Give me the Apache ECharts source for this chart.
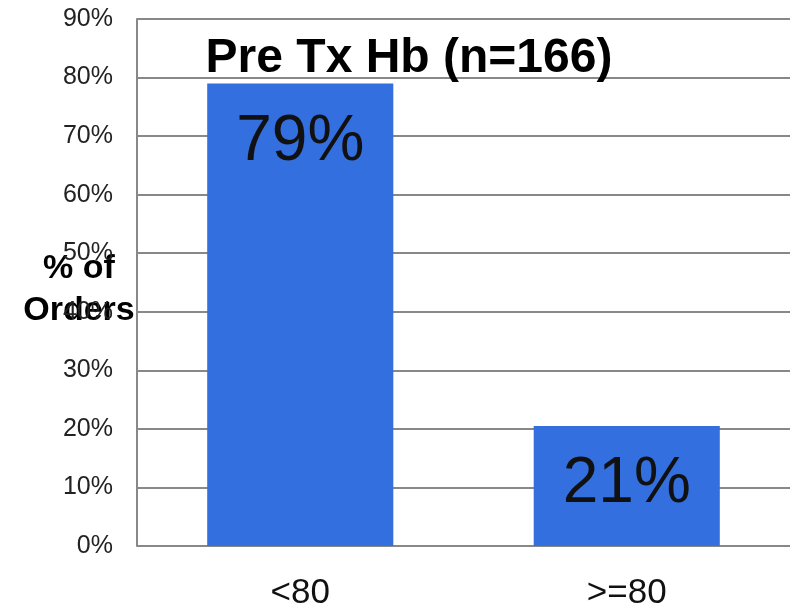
<!DOCTYPE html>
<html><head><meta charset="utf-8">
<script src="https://cdn.jsdelivr.net/npm/echarts@6/dist/echarts.min.js"></script>
<style>html,body{margin:0;padding:0;background:#fff}#c{width:794px;height:611px}</style>
</head><body><div id="c"></div>
<script>
const categories = ['<80', '>=80'];
const values = [79, 20.5];
const valueLabels = ['79%', '21%'];
const yTicks = [0, 10, 20, 30, 40, 50, 60, 70, 80, 90];

const chart = echarts.init(document.getElementById('c'));
const font = '"Liberation Sans", Arial, sans-serif';
chart.setOption({
  animation: false,
  textStyle: { fontFamily: font },
  title: {
    text: 'Pre Tx Hb (n=166)', left: 404, top: 30, textAlign: 'center',
    textStyle: { fontFamily: font, fontSize: 48, fontWeight: 'bold', color: '#000' }
  },
  graphic: [{
    type: 'text', x: 79, y: 248,
    style: { text: '% of\nOrders', font: 'bold 34px ' + font, fill: '#000', textAlign: 'center', lineHeight: 42 }
  }],
  grid: { left: 137, right: 4, top: 19, bottom: 62 },
  xAxis: {
    type: 'category', data: categories,
    axisLine: { show: false }, axisTick: { show: false },
    axisLabel: { fontSize: 35, color: '#111', margin: 30, fontFamily: font }
  },
  yAxis: {
    type: 'value', min: 0, max: 90, interval: 10,
    axisLine: { show: true, lineStyle: { color: '#888', width: 2 } },
    axisTick: { show: false },
    splitLine: { lineStyle: { color: '#888', width: 2 } },
    axisLabel: { formatter: v => v + '%', fontSize: 25, color: '#222', margin: 24, fontFamily: font }
  },
  series: [{
    type: 'bar', barWidth: '57%',
    itemStyle: { color: '#336fdf' },
    label: {
      show: true, formatter: p => valueLabels[p.dataIndex],
      fontSize: 64, color: '#111', fontFamily: font
    },
    data: [
      { value: values[0], label: { position: 'insideTop', distance: 27 } },
      { value: values[1], label: { position: 'inside', offset: [0, -2] } }
    ]
  }]
});
</script></body></html>
